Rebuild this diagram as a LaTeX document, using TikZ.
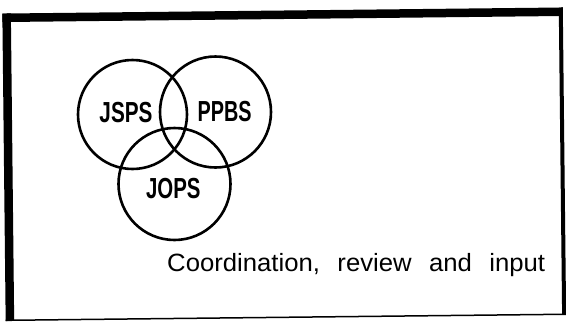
\documentclass[tikz,border=0pt]{standalone}
\usepackage{fontspec}
\setmainfont{Liberation Sans}
\usepackage{graphicx}
\tikzset{
  ring/.style={circle, draw=black, line width=2.6pt, inner sep=0pt},
  lbl/.style={inner sep=0pt, anchor=base},
  bar/.style={fill=black, draw=none}
}
\newcommand{\vlabel}[2]{\resizebox{#1}{\height}{\fontsize{29}{29}\selectfont\bfseries #2}}
\begin{document}
\begin{tikzpicture}[x=1pt, y=-1pt]
\useasboundingbox (0,0) rectangle (566,322);
% frame (slightly tilted like the scan)
\begin{scope}[rotate around={0.62:(284,166)}]
\fill[bar] (4,10.5) rectangle (564.5,19);
\fill[bar] (4,10.5) rectangle (12.5,318);
\fill[bar] (560.5,10.5) rectangle (564.5,318);
\draw[line width=1.5pt] (4,317.3) -- (564.5,317.3);
\end{scope}
% circles
\node[ring, minimum size=109pt] (cjsps) at (132.5,114.5) {};
\node[ring, minimum size=111pt] (cppbs) at (215.5,112) {};
\node[ring, minimum size=112pt] (cjops) at (174.5,184) {};
% labels
\node[lbl] (tjsps) at (126,122.7) {\vlabel{53pt}{JSPS}};
\node[lbl] (tppbs) at (224.7,121.7) {\vlabel{54pt}{PPBS}};
\node[lbl] (tjops) at (173.3,198.3) {\vlabel{54.5pt}{JOPS}};
% caption
\node[inner sep=0pt, anchor=base west] (cap) at (167,271)
  {\resizebox{378pt}{\height}{\fontsize{25}{25}\selectfont Coordination,\hspace{0.4em} review\hspace{0.4em} and\hspace{0.4em} input}};
\end{tikzpicture}
\end{document}
